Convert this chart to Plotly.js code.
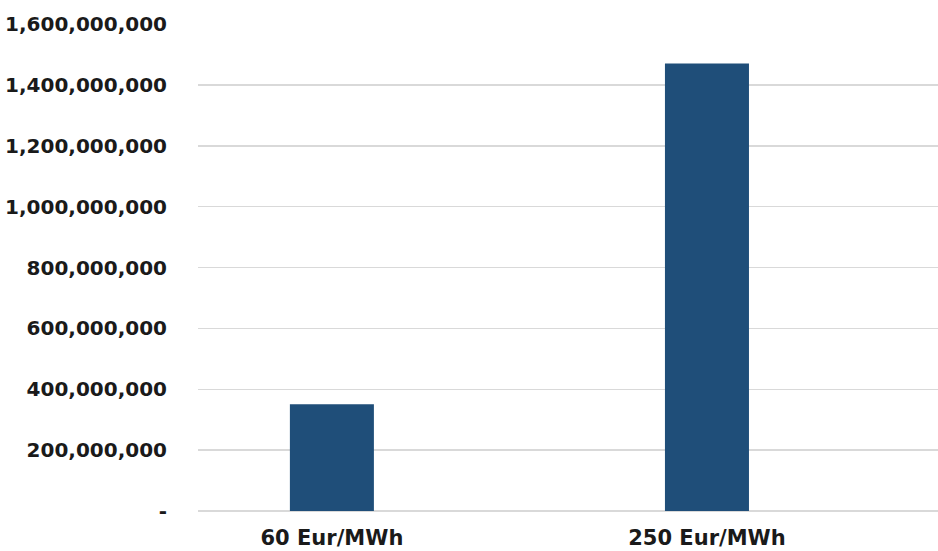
<!DOCTYPE html>
<html>
<head>
<meta charset="utf-8">
<script src="https://cdn.plot.ly/plotly-3.0.1.min.js"></script>
<style>html,body{margin:0;padding:0;background:#fff;}#chart{width:938px;height:551px;}</style>
</head>
<body>
<div id="chart"></div>
<script>
const categories = ["60 Eur/MWh", "250 Eur/MWh"];
const values = [351000000, 1470000000];
const yTickVals = [0, 200000000, 400000000, 600000000, 800000000, 1000000000, 1200000000, 1400000000, 1600000000];
const yTickText = ["-", "200,000,000", "400,000,000", "600,000,000", "800,000,000", "1,000,000,000", "1,200,000,000", "1,400,000,000", "1,600,000,000"];

const yFont = {family: "DejaVu Sans, Verdana, sans-serif", size: 20, color: "#1a1a1a", weight: "bold"};
const xFont = {family: "DejaVu Sans, Verdana, sans-serif", size: 21, color: "#1a1a1a", weight: "bold"};

Plotly.newPlot("chart", [{
  type: "bar",
  x: [0, 1],
  y: values,
  width: 0.224,
  marker: {color: "#1F4E79"},
  hoverinfo: "none"
}], {
  width: 938, height: 551,
  margin: {l: 198, r: 0, t: 24, b: 40},
  paper_bgcolor: "#ffffff",
  plot_bgcolor: "#ffffff",
  showlegend: false,
  font: yFont,
  xaxis: {
    range: [-0.357, 1.616],
    tickvals: [0, 1],
    ticktext: categories,
    showgrid: false,
    zeroline: false,
    showline: false,
    ticks: "",
    ticklabelstandoff: 12,
    tickfont: xFont
  },
  yaxis: {
    range: [0, 1600000000],
    tickvals: yTickVals,
    ticktext: yTickText,
    showgrid: true,
    gridcolor: "#d9d9d9",
    gridwidth: 1.5,
    zeroline: true,
    zerolinecolor: "#d9d9d9",
    zerolinewidth: 1.5,
    showline: false,
    ticks: "",
    ticklabelstandoff: 30,
    tickfont: yFont
  }
}, {displayModeBar: false, staticPlot: true});
</script>
</body>
</html>
